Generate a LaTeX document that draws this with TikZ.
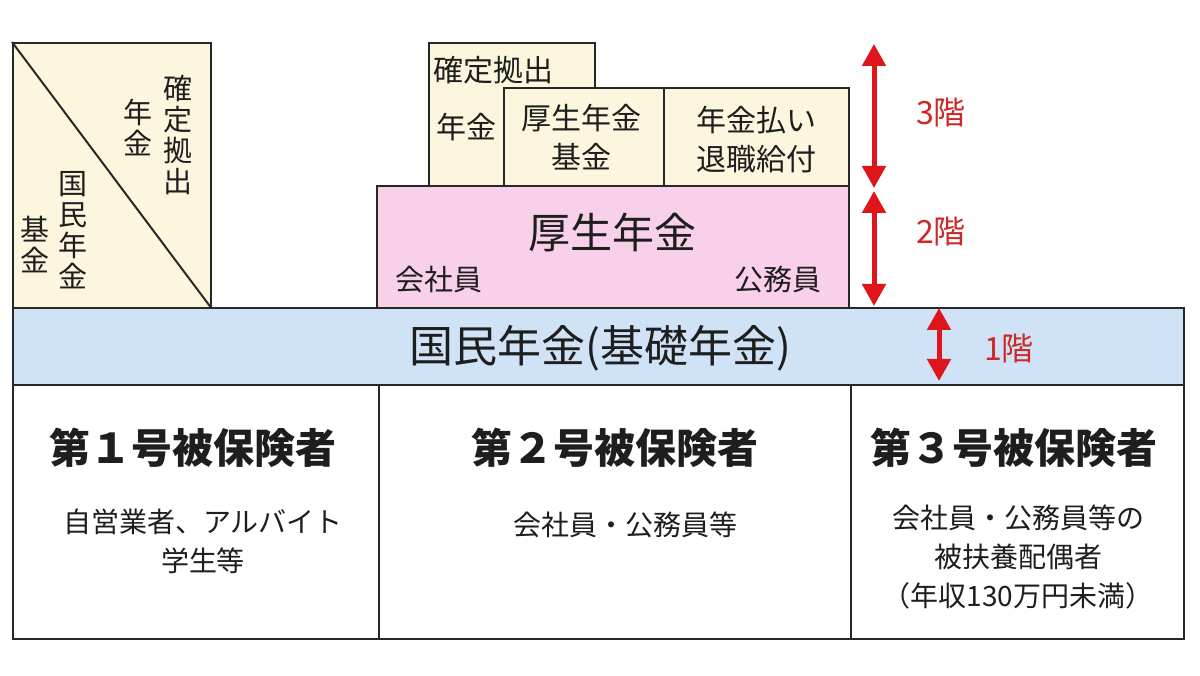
\documentclass[tikz,border=0pt]{standalone}
\usepackage{fontspec}
\setmainfont{Noto Sans CJK JP}
\usetikzlibrary{arrows.meta}
\definecolor{cream}{RGB}{253,246,222}
\definecolor{pinkbox}{RGB}{249,208,233}
\definecolor{bluebar}{RGB}{208,227,246}
\definecolor{linec}{RGB}{40,40,40}
\definecolor{txt}{RGB}{30,30,30}
\definecolor{arrowred}{RGB}{222,22,28}
\definecolor{labelred}{RGB}{205,40,40}
\begin{document}
\begin{tikzpicture}[x=1pt,y=-1pt,
  box/.style={draw=linec, line width=2pt, rectangle, inner sep=0pt, anchor=north west},
  tx/.style={text=txt, inner sep=0pt, align=center},
  vert/.style={tx, font=\fontsize{29pt}{31pt}\selectfont},
  small/.style={tx, font=\fontsize{30pt}{39pt}\selectfont},
  big/.style={tx, font=\fontsize{42pt}{48pt}\selectfont},
  head/.style={tx, font=\bfseries\fontsize{41pt}{48pt}\selectfont},
  sub/.style={tx, font=\fontsize{28pt}{39pt}\selectfont},
  lvl/.style={text=labelred, inner sep=0pt, font=\fontsize{32pt}{36pt}\selectfont},
  dbl/.style={arrowred, line width=5pt, {Triangle[width=23pt,length=22pt]}-{Triangle[width=23pt,length=22pt]}}
]
\useasboundingbox (0,0) rectangle (1200,676);
\fill[white] (0,0) rectangle (1200,676);

% top-left box with diagonal
\node[box, fill=cream, minimum width=198pt, minimum height=265pt] (kikin) at (12,42) {};
\draw[linec, line width=2pt] (kikin.north west) -- (kikin.south east);
\node[vert] (t1) at (178,135) {確\\定\\拠\\出};
\node[vert] (t2) at (138,127) {年\\金};
\node[vert] (t3) at (73,230) {国\\民\\年\\金};
\node[vert] (t4) at (35,245) {基\\金};

% third floor boxes
\node[box, fill=cream, minimum width=166pt, minimum height=143pt] (dc) at (428,42) {};
\node[small, anchor=west] (dct) at (433,70) {確定拠出};
\node[small] (dcn) at (466,127) {年金};
\node[box, fill=cream, minimum width=160pt, minimum height=98pt] (kk) at (503,87) {};
\node[small] (kkt) at (581,137) {厚生年金\\基金};
\node[box, fill=cream, minimum width=185pt, minimum height=98pt] (nb) at (663,87) {};
\node[small] (nbt) at (756,140) {年金払い\\退職給付};

% second floor
\node[box, fill=pinkbox, minimum width=472pt, minimum height=122pt] (kosei) at (376,185) {};
\node[big] (koseit) at (612,232) {厚生年金};
\node[sub, font=\fontsize{29pt}{34pt}\selectfont] (ks) at (439,280) {会社員};
\node[sub, font=\fontsize{29pt}{34pt}\selectfont] (km) at (778,280) {公務員};

% first floor
\node[box, fill=bluebar, minimum width=1171pt, minimum height=77pt] (kokumin) at (12,307) {};
\node[tx, font=\fontsize{44pt}{48pt}\selectfont] (kokumint) at (600,348) {国民年金(基礎年金)};

% bottom table
\node[box, minimum width=366pt, minimum height=254pt] (c1) at (12,384) {};
\node[box, minimum width=472pt, minimum height=254pt] (c2) at (378,384) {};
\node[box, minimum width=333pt, minimum height=254pt] (c3) at (850,384) {};
\node[head] (h1) at (193,448) {第１号被保険者};
\node[head] (h2) at (615,448) {第２号被保険者};
\node[head] (h3) at (1014,448) {第３号被保険者};
\node[sub] (s1) at (203,541) {自営業者、アルバイト\\学生等};
\node[sub] (s2) at (625,525) {会社員・公務員等};
\node[sub] (s3) at (1018,557) {会社員・公務員等の\\被扶養配偶者\\（年収130万円未満）};

% floor arrows
\coordinate (a3t) at (874,44);
\coordinate (a3b) at (874,188);
\coordinate (a2t) at (874,191);
\coordinate (a2b) at (874,306);
\coordinate (a1t) at (939,308);
\coordinate (a1b) at (939,381);
\draw[dbl] (a3t) -- (a3b);
\draw[dbl] (a2t) -- (a2b);
\draw[dbl] (a1t) -- (a1b);
\node[lvl] (l3) at (941,113) {3階};
\node[lvl] (l2) at (941,232) {2階};
\node[lvl] (l1) at (1009,349) {1階};
\end{tikzpicture}
\end{document}
